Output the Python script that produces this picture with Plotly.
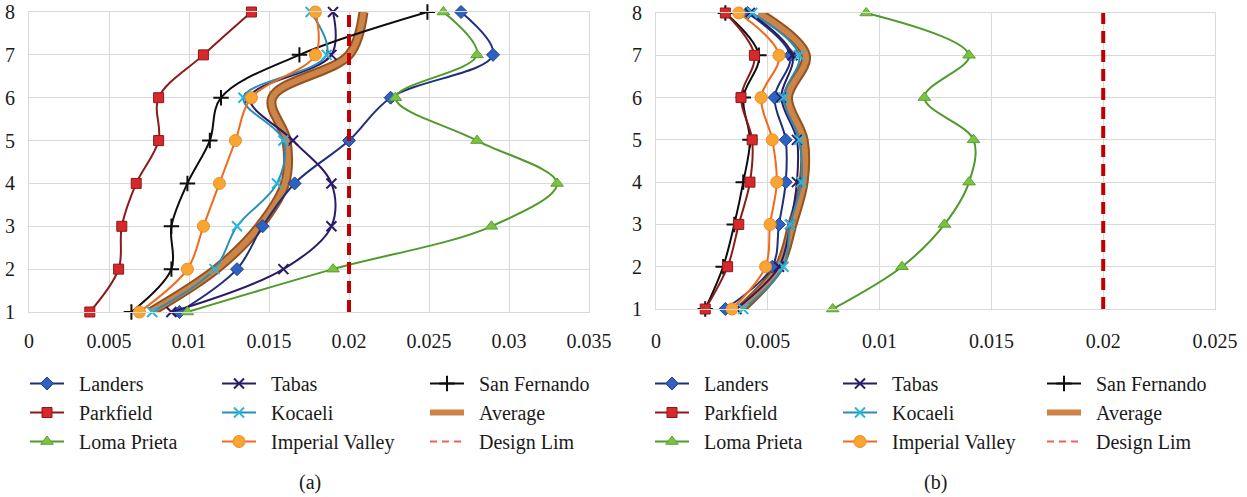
import plotly.graph_objects as go

# Storey numbers (vertical axis)
stories = [1, 2, 3, 4, 5, 6, 7, 8]

# Panel (a): inter-storey drift ratios
landers_a = [0.0094, 0.0130, 0.0146, 0.0166, 0.0200, 0.0226, 0.0290, 0.0270]
tabas_a = [0.0089, 0.0159, 0.0189, 0.0189, 0.0165, 0.0138, 0.0189, 0.0190]
sanfernando_a = [0.0064, 0.0089, 0.0089, 0.0099, 0.0113, 0.0120, 0.0169, 0.0249]
parkfield_a = [0.0038, 0.0056, 0.0058, 0.0067, 0.0081, 0.0081, 0.0109, 0.0139]
kocaeli_a = [0.0077, 0.0116, 0.0130, 0.0155, 0.0159, 0.0134, 0.0186, 0.0176]
lomaprieta_a = [0.0099, 0.0190, 0.0289, 0.0330, 0.0280, 0.0229, 0.0280, 0.0259]
imperial_a = [0.0069, 0.0099, 0.0109, 0.0119, 0.0129, 0.0139, 0.0179, 0.0179]
average_a = [0.0076, 0.0117, 0.0144, 0.0160, 0.0161, 0.0152, 0.0200, 0.0209]

# Panel (b): inter-storey drift ratios
landers_b = [0.0031, 0.0052, 0.0055, 0.0058, 0.0058, 0.0053, 0.0060, 0.0041]
tabas_b = [0.0036, 0.0055, 0.0060, 0.0063, 0.0063, 0.0056, 0.0061, 0.0042]
sanfernando_b = [0.0022, 0.0030, 0.0035, 0.0039, 0.0042, 0.0039, 0.0046, 0.0031]
parkfield_b = [0.0022, 0.0032, 0.0037, 0.0042, 0.0043, 0.0038, 0.0044, 0.0031]
kocaeli_b = [0.0039, 0.0057, 0.0060, 0.0065, 0.0064, 0.0057, 0.0064, 0.0043]
lomaprieta_b = [0.0079, 0.0110, 0.0129, 0.0140, 0.0142, 0.0120, 0.0140, 0.0094]
imperial_b = [0.0034, 0.0049, 0.0051, 0.0054, 0.0052, 0.0047, 0.0055, 0.0037]
average_b = [0.0038, 0.0055, 0.0061, 0.0066, 0.0066, 0.0059, 0.0067, 0.0046]

design_limit = 0.02

# Tick labels
xticks_a = [0, 0.005, 0.01, 0.015, 0.02, 0.025, 0.03, 0.035]
xticklabels_a = ["0", "0.005", "0.01", "0.015", "0.02", "0.025", "0.03", "0.035"]
xticks_b = [0, 0.005, 0.01, 0.015, 0.02, 0.025]
xticklabels_b = ["0", "0.005", "0.01", "0.015", "0.02", "0.025"]
yticklabels = ["1", "2", "3", "4", "5", "6", "7", "8"]

FONT = "Liberation Serif, Times New Roman, DejaVu Serif, serif"
GRID = "#d9d9d9"
TEXT = "#1a1a1a"
PAD = "\u00a0\u00a0"  # small gap between legend key and label

styles = {
    "Landers": dict(line="#1f2f7a", marker=dict(symbol="diamond", size=10, color="#2f62c0",
                                                  line=dict(color="#1f3f8f", width=1))),
    "Tabas": dict(line="#2b1b66", marker=dict(symbol="x-thin", size=10,
                                                line=dict(color="#2b1b66", width=2))),
    "San Fernando": dict(line="#0d0d0d", marker=dict(symbol="cross-thin", size=11,
                                                       line=dict(color="#0d0d0d", width=2))),
    "Parkfield": dict(line="#8b1a1a", marker=dict(symbol="square", size=10, color="#d8282b",
                                                    line=dict(color="#8b1a1a", width=1))),
    "Kocaeli": dict(line="#2a8db5", marker=dict(symbol="x-thin", size=10,
                                                  line=dict(color="#2bb5d9", width=2))),
    "Loma Prieta": dict(line="#4f9a2a", marker=dict(symbol="triangle-up", size=11, color="#7cc242",
                                                      line=dict(color="#5aa032", width=1))),
    "Imperial Valley": dict(line="#f06a1c", marker=dict(symbol="circle", size=12, color="#f9a531",
                                                          line=dict(color="#f08a25", width=1))),
}

# column / rank placement in the three-column legend
legend_slot = {
    "Landers": (0, 1), "Parkfield": (0, 2), "Loma Prieta": (0, 3),
    "Tabas": (1, 1), "Kocaeli": (1, 2), "Imperial Valley": (1, 3),
    "San Fernando": (2, 1), "Average": (2, 2), "Design Lim": (2, 3),
}

panels = [
    dict(xa="x", ya="y", legends=["legend", "legend2", "legend3"],
         series={"Landers": landers_a, "Tabas": tabas_a, "San Fernando": sanfernando_a,
                 "Parkfield": parkfield_a, "Kocaeli": kocaeli_a, "Loma Prieta": lomaprieta_a,
                 "Imperial Valley": imperial_a},
         average=average_a),
    dict(xa="x2", ya="y2", legends=["legend4", "legend5", "legend6"],
         series={"Landers": landers_b, "Tabas": tabas_b, "San Fernando": sanfernando_b,
                 "Parkfield": parkfield_b, "Kocaeli": kocaeli_b, "Loma Prieta": lomaprieta_b,
                 "Imperial Valley": imperial_b},
         average=average_b),
]

fig = go.Figure()

for p in panels:
    # average envelope: darker outline under a lighter core
    col, rank = legend_slot["Average"]
    fig.add_trace(go.Scatter(x=p["average"], y=stories, mode="lines", xaxis=p["xa"], yaxis=p["ya"],
                             line=dict(color="#94521f", width=10, shape="spline"),
                             showlegend=False, hoverinfo="skip"))
    fig.add_trace(go.Scatter(x=p["average"], y=stories, mode="lines", name=PAD + "Average",
                             xaxis=p["xa"], yaxis=p["ya"],
                             line=dict(color="#cc8448", width=6, shape="spline"),
                             legend=p["legends"][col], legendrank=rank))
    for name, vals in p["series"].items():
        st = styles[name]
        col, rank = legend_slot[name]
        fig.add_trace(go.Scatter(x=vals, y=stories, mode="lines+markers", name=PAD + name,
                                 xaxis=p["xa"], yaxis=p["ya"],
                                 line=dict(color=st["line"], width=2, shape="spline"),
                                 marker=st["marker"], cliponaxis=False,
                                 legend=p["legends"][col], legendrank=rank))
    # design drift limit: bold dashes on the chart, light key in the legend
    col, rank = legend_slot["Design Lim"]
    fig.add_trace(go.Scatter(x=[design_limit, design_limit], y=[stories[0], stories[-1]], mode="lines",
                             xaxis=p["xa"], yaxis=p["ya"], showlegend=False, hoverinfo="skip",
                             line=dict(color="#c00000", width=4, dash="12px,7px")))
    fig.add_trace(go.Scatter(x=[None], y=[None], mode="lines", name=PAD + "Design Lim",
                             xaxis=p["xa"], yaxis=p["ya"],
                             line=dict(color="#f0605a", width=2, dash="7px,5px"),
                             legend=p["legends"][col], legendrank=rank))

axis_common = dict(showgrid=True, gridcolor=GRID, gridwidth=1, zeroline=False,
                   showline=True, linecolor=GRID, linewidth=1, mirror=True, ticks="",
                   automargin=False, tickfont=dict(family=FONT, size=20, color=TEXT))

fig.update_layout(
    width=1247, height=497,
    margin=dict(l=29, r=32, t=12, b=185, autoexpand=False),
    paper_bgcolor="white", plot_bgcolor="white",
    font=dict(family=FONT, size=20, color=TEXT),
    xaxis=dict(domain=[0, 0.4722], range=[0, 0.035], tickvals=xticks_a, ticktext=xticklabels_a,
               anchor="y", ticklabelstandoff=11, **axis_common),
    yaxis=dict(domain=[0, 1], range=[1, 8], tickvals=stories, ticktext=yticklabels,
               anchor="x", ticklabelstandoff=9, **axis_common),
    xaxis2=dict(domain=[0.5287, 1], range=[0, 0.025], tickvals=xticks_b, ticktext=xticklabels_b,
                anchor="y2", ticklabelstandoff=14, **axis_common),
    yaxis2=dict(domain=[0.01, 0.9967], range=[1, 8], tickvals=stories, ticktext=yticklabels,
                anchor="x2", ticklabelstandoff=9, **axis_common),
)

# legend columns: left edges in figure pixels, converted to paper fractions
plot_left, plot_w, plot_bottom, plot_h = 29, 1186, 312, 300
legend_left_px = {"legend": 25, "legend2": 217, "legend3": 425,
                  "legend4": 650, "legend5": 838, "legend6": 1042}
for key, px in legend_left_px.items():
    fig.update_layout({key: dict(x=(px - plot_left) / plot_w, y=(plot_bottom - 364) / plot_h,
                                 xanchor="left", yanchor="top",
                                 orientation="v", bgcolor="rgba(0,0,0,0)", borderwidth=0,
                                 font=dict(family=FONT, size=20, color=TEXT),
                                 itemwidth=34, traceorder="normal")})

for text, px in [("(a)", 310), ("(b)", 935)]:
    fig.add_annotation(text=text, x=(px - plot_left) / plot_w, y=(plot_bottom - 483) / plot_h,
                       xref="paper", yref="paper", xanchor="center", yanchor="middle",
                       showarrow=False, font=dict(family=FONT, size=20, color=TEXT))

fig.write_html("out.html")
